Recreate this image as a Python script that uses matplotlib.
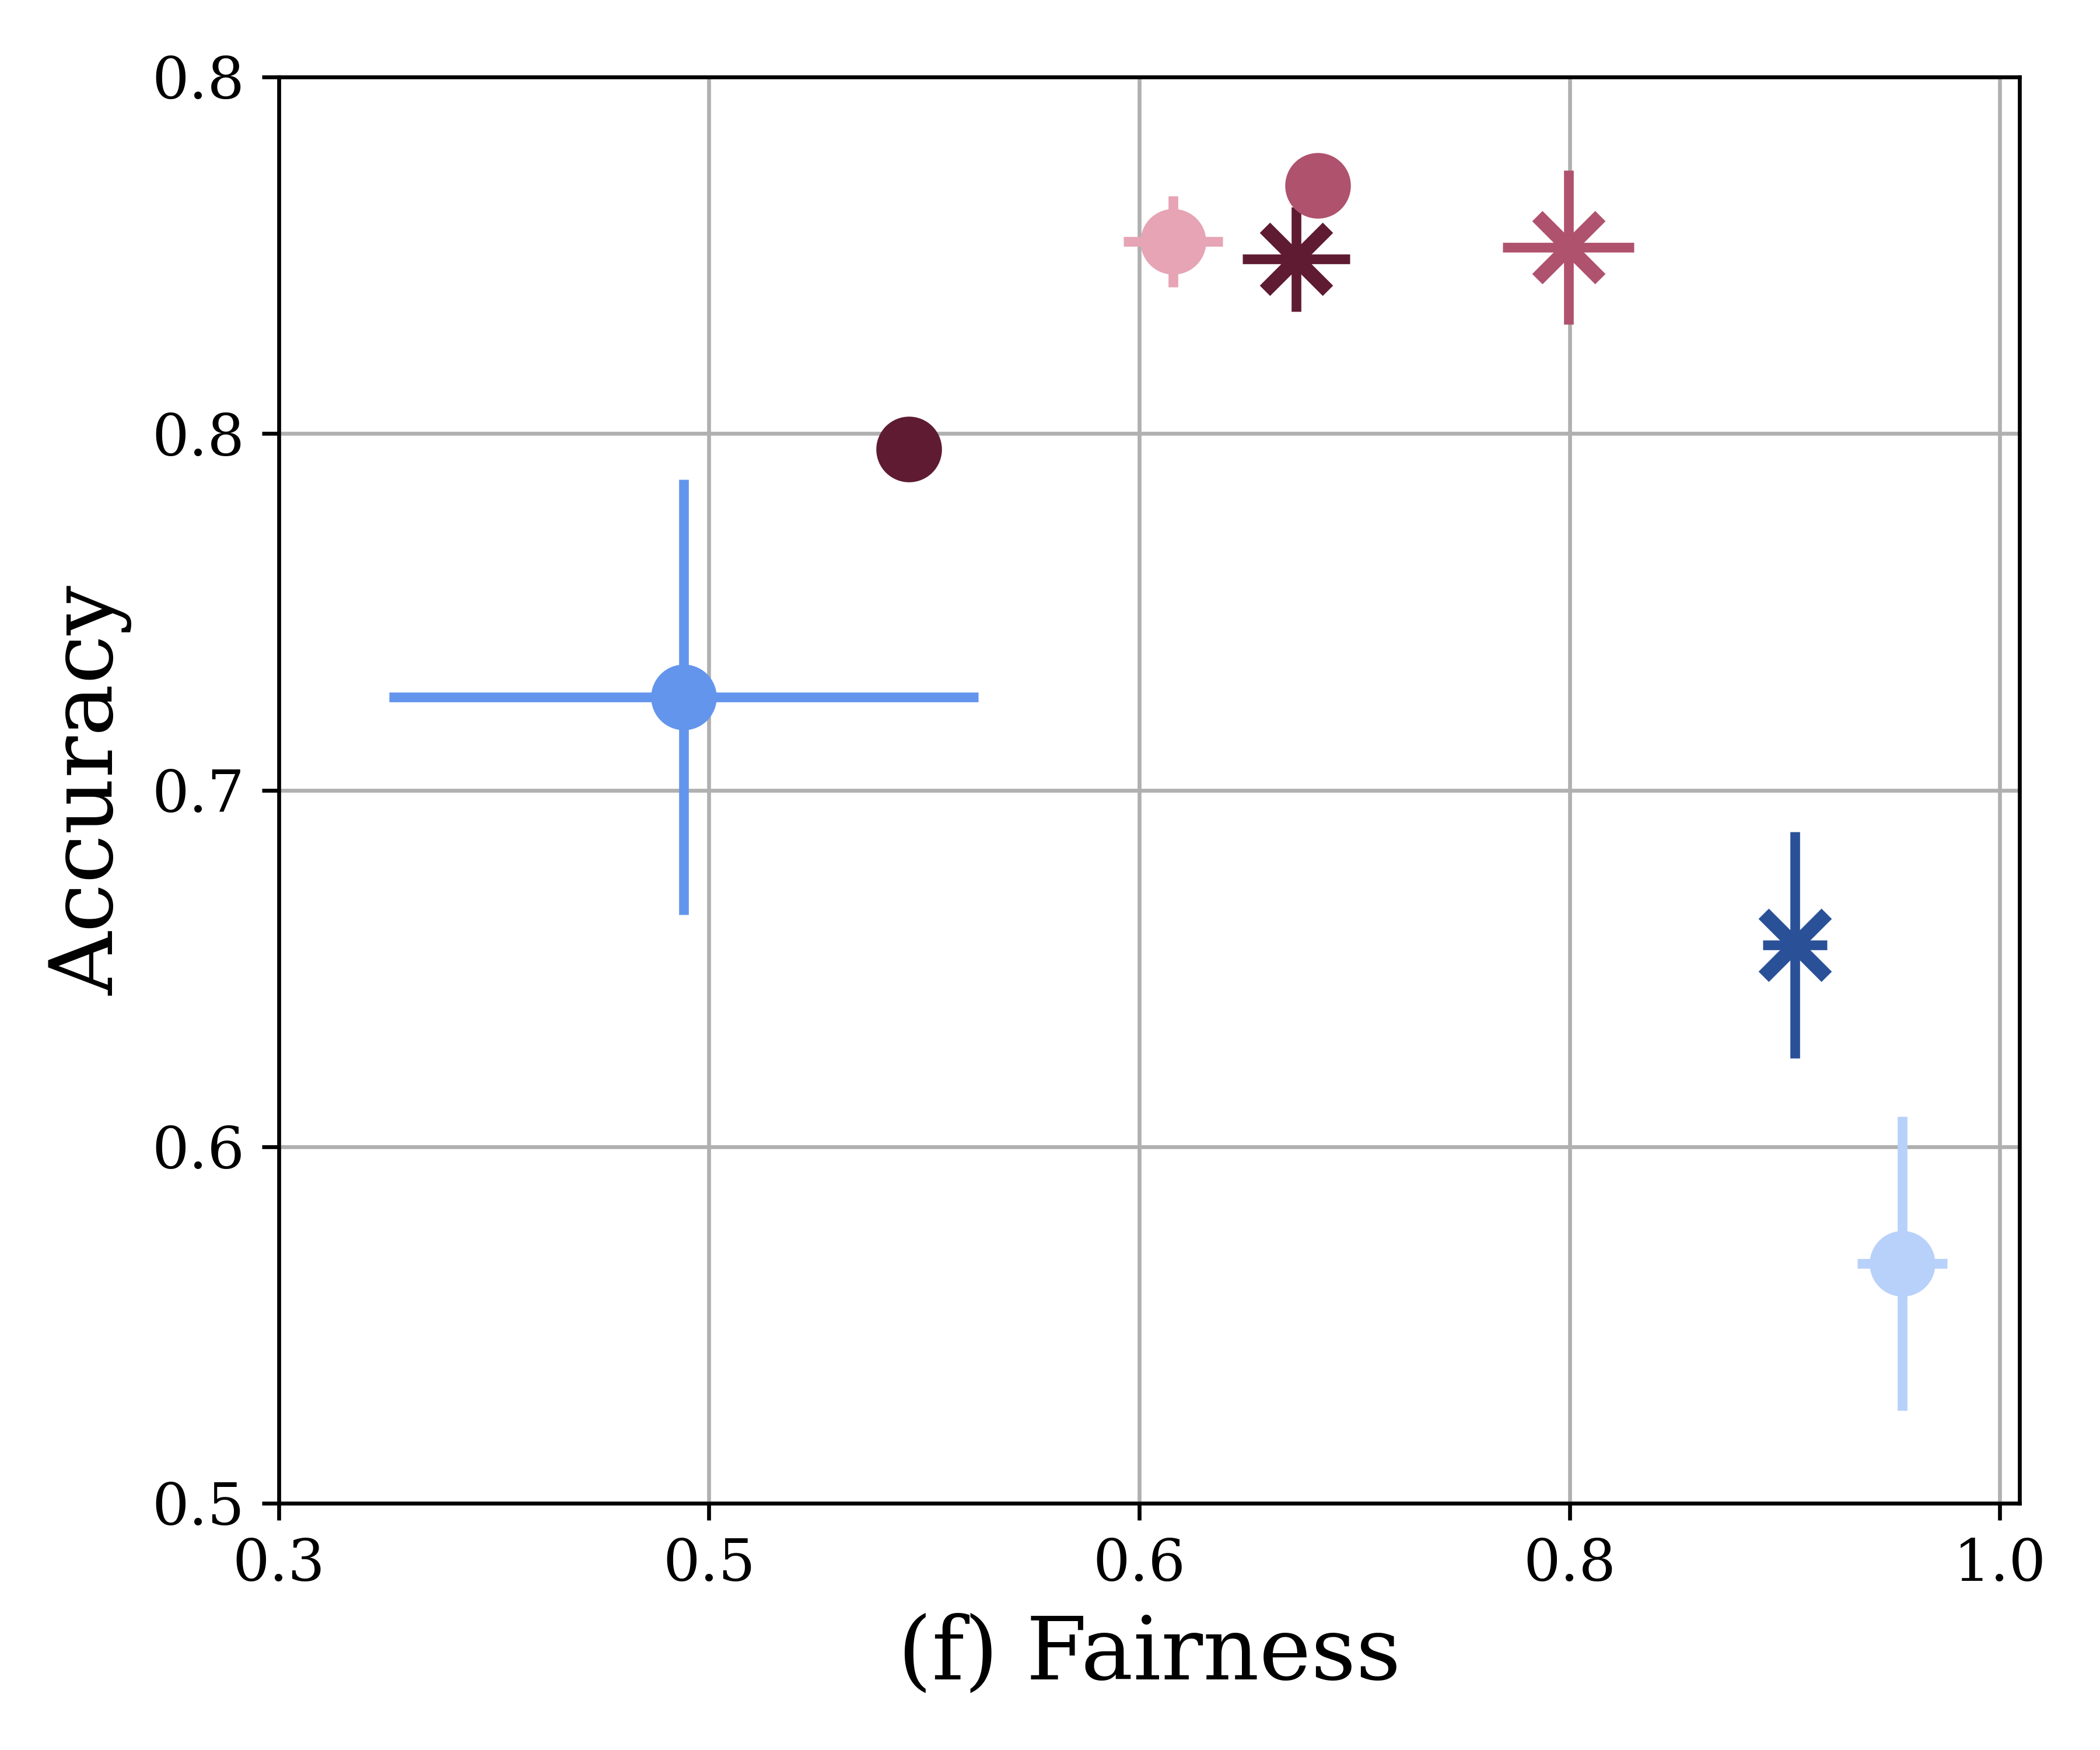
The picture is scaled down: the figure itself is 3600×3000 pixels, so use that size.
import numpy as np
import matplotlib
matplotlib.use("Agg")
import matplotlib.pyplot as plt

plt.rcParams['font.family'] = ['DejaVu Serif']

# data
fairness = [0.4647, 0.5563, 0.6637, 0.7138, 0.7226, 0.8245, 0.9167, 0.9603]
accuracy = [0.6978, 0.7586, 0.8096, 0.8053, 0.8234, 0.8082, 0.6370, 0.5588]
fair_err = [0.1197, 0.0, 0.0202, 0.0218, 0.0, 0.0267, 0.0130, 0.0183]
acc_err = [0.0534, 0.0, 0.0112, 0.0128, 0.0, 0.0189, 0.0278, 0.0361]
markers = ['o', 'o', 'o', 'x', 'o', 'x', 'x', 'o']
colors = ['#6495ED', '#5E1B32', '#E6A4B5', '#5E1B32', '#AF526E', '#AF526E', '#2A5198', '#B8D1FA']
x_tick_labels = ['0.3', '0.5', '0.6', '0.8', '1.0']
y_tick_labels = ['0.5', '0.6', '0.7', '0.8', '0.8']

fig = plt.figure(figsize=(6, 5), dpi=600)
ax = fig.add_axes([0.1327, 0.141, 0.829, 0.815])

for x, y, xe, ye, m, c in zip(fairness, accuracy, fair_err, acc_err, markers, colors):
    if m == 'o':
        ax.errorbar(x, y, xerr=xe, yerr=ye, fmt='o', color=c, ecolor=c,
                    elinewidth=2, markersize=12.5, zorder=3)
    else:
        ax.errorbar(x, y, xerr=xe, yerr=ye, fmt='x', color=c, ecolor=c,
                    elinewidth=2, markersize=13, markeredgewidth=3, zorder=3)

ax.set_xlim(0.3, 1.008)
ax.set_ylim(0.5, 0.85)
ax.set_xticks(np.linspace(0.3, 1.0, 5))
ax.set_xticklabels(x_tick_labels)
ax.set_yticks(np.linspace(0.5, 0.85, 5))
ax.set_yticklabels(y_tick_labels)
ax.tick_params(labelsize=12)
ax.grid(True, color='#b0b0b0', linewidth=0.8)
ax.set_axisbelow(True)
ax.set_xlabel('(f) Fairness', fontsize=18)
ax.set_ylabel('Accuracy', fontsize=18)

fig.savefig('out.png', dpi=600)
